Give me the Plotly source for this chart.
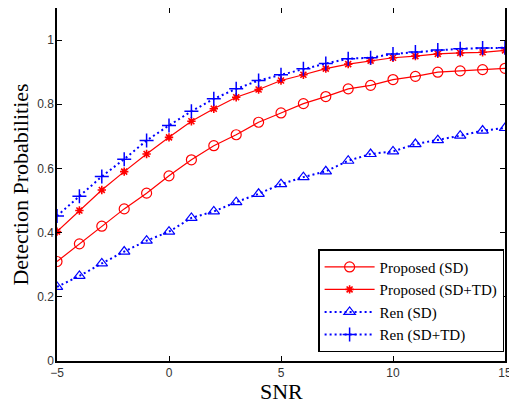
import plotly.graph_objects as go

snr = list(range(-5, 16))
proposed_sd = [0.31, 0.365, 0.42, 0.474, 0.523, 0.577, 0.627, 0.671, 0.705, 0.744,
               0.773, 0.802, 0.824, 0.848, 0.859, 0.877, 0.887, 0.900, 0.904, 0.908, 0.912]
proposed_sdtd = [0.403, 0.469, 0.533, 0.59, 0.645, 0.697, 0.747, 0.786, 0.822, 0.846,
                 0.874, 0.892, 0.911, 0.925, 0.936, 0.945, 0.95, 0.957, 0.96, 0.962, 0.968]
ren_sd = [0.231, 0.265, 0.304, 0.341, 0.375, 0.403, 0.446, 0.466, 0.495, 0.521,
          0.551, 0.573, 0.591, 0.624, 0.645, 0.653, 0.676, 0.688, 0.702, 0.718, 0.726]
ren_sdtd = [0.452, 0.513, 0.575, 0.629, 0.687, 0.734, 0.778, 0.817, 0.848, 0.874,
            0.892, 0.911, 0.927, 0.942, 0.945, 0.957, 0.963, 0.969, 0.973, 0.975, 0.976]

x_ticks = [-5, 0, 5, 10, 15]
y_ticks = [0, 0.2, 0.4, 0.6, 0.8, 1]
x_title = "SNR"
y_title = "Detection Probabilities"

RED = "#ff0000"
BLUE = "#0000ff"
DOTS = "2px,3px"
SERIF = "Liberation Serif, Times New Roman, serif"

fig = go.Figure()
fig.add_trace(go.Scatter(x=snr, y=proposed_sd, name="Proposed (SD)", mode="lines+markers",
                         line=dict(color=RED, width=1.2),
                         marker=dict(symbol="circle-open", size=10, color=RED, line=dict(width=1.2))))
fig.add_trace(go.Scatter(x=snr, y=proposed_sdtd, name="Proposed (SD+TD)", mode="lines+markers",
                         line=dict(color=RED, width=1.2),
                         marker=dict(symbol="asterisk-open", size=7, color=RED, line=dict(width=1.6, color=RED))))
fig.add_trace(go.Scatter(x=snr, y=ren_sd, name="Ren (SD)", mode="lines+markers",
                         line=dict(color=BLUE, width=2, dash=DOTS),
                         marker=dict(symbol="triangle-up-open", size=10, color=BLUE, line=dict(width=1.2))))
fig.add_trace(go.Scatter(x=snr, y=ren_sdtd, name="Ren (SD+TD)", mode="lines+markers",
                         line=dict(color=BLUE, width=2, dash=DOTS),
                         marker=dict(symbol="cross-thin-open", size=10, color=BLUE, line=dict(width=1.5, color=BLUE))))

axis_common = dict(showline=True, linecolor="black", linewidth=1.5, mirror="ticks",
                   ticks="inside", ticklen=5, tickcolor="black", showgrid=False, zeroline=False,
                   automargin=False,
                   tickfont=dict(family="Liberation Sans, Arial, sans-serif", size=12, color="#333333"))

fig.update_xaxes(range=[-5, 15], tickvals=x_ticks, **axis_common)
fig.update_yaxes(range=[0, 1.1], tickvals=y_ticks, ticklabelstandoff=-1,
                 title=dict(text=y_title, font=dict(family=SERIF, size=22, color="black"), standoff=9),
                 **axis_common)

# x-axis title as an annotation so it can sit slightly lower than the margin-constrained axis title
fig.add_annotation(text=x_title, xref="paper", yref="paper", x=0.5, y=-0.087,
                   xanchor="center", yanchor="middle", showarrow=False,
                   font=dict(family=SERIF, size=22, color="black"))

# the page body adds an 8px margin, so the figure is sized to fit inside the 517x403 window
fig.update_layout(
    width=509, height=395,
    margin=dict(l=49, r=12, t=0, b=42),
    paper_bgcolor="white", plot_bgcolor="white",
    legend=dict(x=0.998, y=0.025, xanchor="right", yanchor="bottom",
                bgcolor="white", bordercolor="black", borderwidth=1.5,
                font=dict(family=SERIF, size=15, color="black"),
                tracegroupgap=0, itemsizing="trace", itemwidth=50),
    showlegend=True,
)

fig.write_html("out.html")
